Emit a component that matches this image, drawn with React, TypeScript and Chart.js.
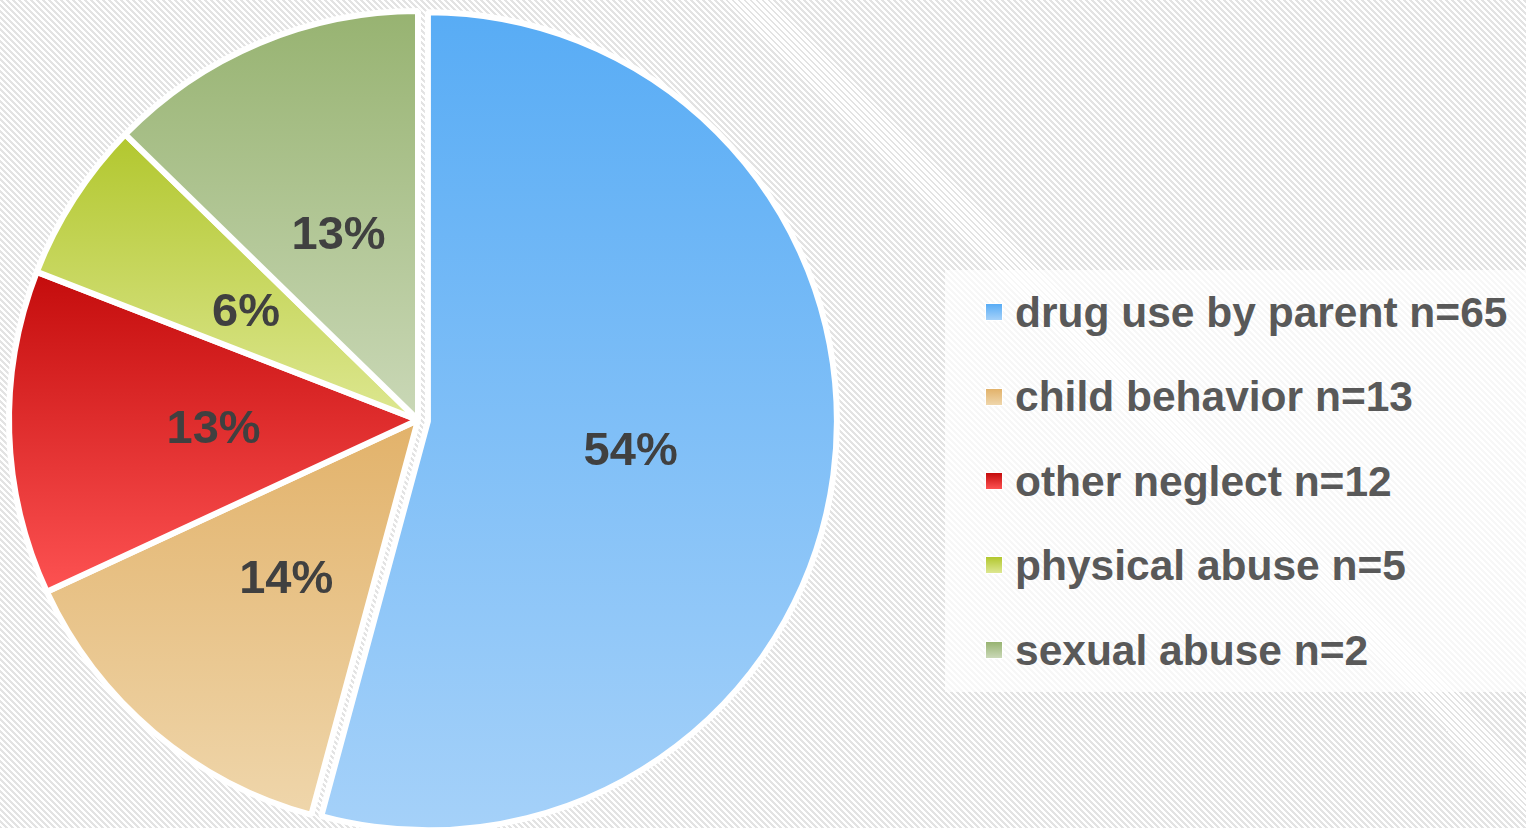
import React, { useEffect, useRef } from "react";
import { Chart, registerables } from "chart.js";

Chart.register(...registerables);

const categories = ["drug use by parent", "child behavior", "other neglect", "physical abuse", "sexual abuse"];
const counts = [65, 13, 12, 5, 2];
const shares = [54.2, 13.9, 12.8, 6.4, 12.7];
const topColors = ["#58acf5", "#e2b26a", "#c40c0c", "#b2c72e", "#97b371"];
const bottomColors = ["#a5d1f9", "#efd6ab", "#fd5252", "#dde791", "#cad8b7"];
const explode = [10, 0, 0, 0, 0];

const FONT = "'Liberation Sans', Arial, Helvetica, sans-serif";

const geometryPlugin = {
  id: "sliceGeometry",
  afterDatasetsUpdate(chart: any) {
    const ctx = chart.ctx;
    const meta = chart.getDatasetMeta(0);
    meta.data.forEach((arc: any, i: number) => {
      const e = explode[i] || 0;
      const midA = (arc.startAngle + arc.endAngle) / 2;
      if (e) {
        arc.x += Math.cos(midA) * e;
        arc.y += Math.sin(midA) * e;
      }
      const { x, y, startAngle, endAngle, outerRadius } = arc;
      const ys = [y, y + Math.sin(startAngle) * outerRadius, y + Math.sin(endAngle) * outerRadius];
      const eps = 1e-6;
      [-Math.PI / 2, Math.PI / 2, (3 * Math.PI) / 2].forEach((a) => {
        if (a >= startAngle - eps && a <= endAngle + eps) ys.push(y + Math.sin(a) * outerRadius);
      });
      const y0 = Math.min(...ys);
      const y1 = Math.max(...ys);
      const g = ctx.createLinearGradient(0, y0, 0, y1);
      g.addColorStop(0, topColors[i]);
      g.addColorStop(1, bottomColors[i]);
      arc.options.backgroundColor = g;
    });
  },
};

const labelPlugin = {
  id: "sliceLabels",
  afterDatasetsDraw(chart: any) {
    const ctx = chart.ctx;
    const meta = chart.getDatasetMeta(0);
    ctx.save();
    ctx.font = `bold 47px ${FONT}`;
    ctx.fillStyle = "#404040";
    ctx.textAlign = "center";
    ctx.textBaseline = "middle";
    meta.data.forEach((arc: any, i: number) => {
      const p = arc.tooltipPosition();
      ctx.fillText(`${Math.round(shares[i])}%`, p.x, p.y + 4);
    });
    ctx.restore();
  },
};

export default function App() {
  const canvasRef = useRef<HTMLCanvasElement | null>(null);

  useEffect(() => {
    if (!canvasRef.current) return;
    const chart = new Chart(canvasRef.current, {
      type: "pie",
      data: {
        labels: categories,
        datasets: [
          {
            data: shares,
            backgroundColor: topColors.slice(),
            borderColor: "#ffffff",
            borderWidth: 6,
            offset: 0,
            hoverOffset: 0,
            clip: false,
          } as any,
        ],
      },
      options: {
        animation: false,
        responsive: false,
        radius: 409,
        layout: { padding: { left: 0, right: 4, top: 12, bottom: 0 } },
        plugins: {
          legend: { display: false },
          tooltip: { enabled: false },
          title: { display: false },
        },
        events: [],
      } as any,
      plugins: [geometryPlugin, labelPlugin],
    });
    return () => chart.destroy();
  }, []);

  return (
    <div
      style={{
        position: "fixed",
        left: 0,
        top: 0,
        width: 1526,
        height: 828,
        overflow: "hidden",
        background: "repeating-linear-gradient(45deg, #e3e3e3 0px, #e3e3e3 2.1px, #ffffff 2.1px, #ffffff 4.24px)",
        fontFamily: FONT,
      }}
    >
      <canvas
        ref={canvasRef}
        width={840}
        height={828}
        style={{ position: "absolute", left: 0, top: 0, width: 840, height: 828 }}
      />
      <div
        style={{
          position: "absolute",
          left: 945,
          top: 270,
          width: 581,
          height: 422,
          background: "rgba(255,255,255,0.7)",
        }}
      >
        {categories.map((c, i) => (
          <div
            key={c}
            style={{
              position: "relative",
              height: 84.4,
            }}
          >
            <div
              style={{
                position: "absolute",
                left: 40,
                top: 42.2 - 9,
                width: 16,
                height: 16,
                border: "1px solid #ffffff",
                background: `linear-gradient(to bottom, ${topColors[i]}, ${bottomColors[i]})`,
              }}
            />
            <div
              style={{
                position: "absolute",
                left: 70,
                top: 1,
                lineHeight: "84.4px",
                fontSize: 42.5,
                fontWeight: "bold",
                color: "#595959",
                whiteSpace: "nowrap",
              }}
            >
              {`${c} n=${counts[i]}`}
            </div>
          </div>
        ))}
      </div>
    </div>
  );
}
